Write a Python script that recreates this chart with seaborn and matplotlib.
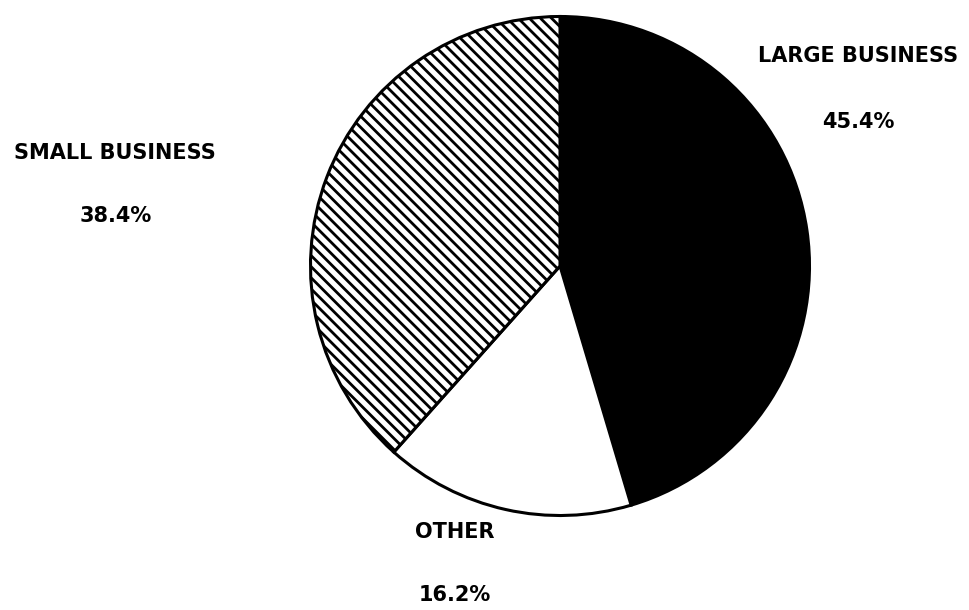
import matplotlib
matplotlib.use("Agg")
import matplotlib.pyplot as plt
import seaborn as sns

# Données du graphique
categories = ["LARGE BUSINESS", "OTHER", "SMALL BUSINESS"]
shares = [45.4, 16.2, 38.4]
share_labels = ["45.4%", "16.2%", "38.4%"]

sns.set_theme(style="white")
plt.rcParams['font.family'] = ['DejaVu Sans']
plt.rcParams['hatch.linewidth'] = 2.0

W, H = 970, 610
fig = plt.figure(figsize=(W / 100, H / 100), dpi=100)

# Le camembert : centre (560, 266) px, rayon ~252 px
cx, cy, r = 560, 266, 252
ax = fig.add_axes([(cx - r) / W, 1 - (cy + r) / H, 2 * r / W, 2 * r / H])

wedges, _ = ax.pie(shares, startangle=90, counterclock=False,
                   colors=["black", "white", "white"],
                   wedgeprops=dict(edgecolor="black", linewidth=2.2))
wedges[2].set_hatch("\\\\\\")
ax.set_xlim(-1.01, 1.01)
ax.set_ylim(-1.01, 1.01)
ax.set_aspect("equal")
ax.axis("off")

# Étiquettes (positions en pixels)
label_pos = {
    "LARGE BUSINESS": (858, 56, 858, 122),
    "OTHER": (455, 532, 455, 595),
    "SMALL BUSINESS": (115, 153, 116, 216),
}
for cat, pct in zip(categories, share_labels):
    x1, y1, x2, y2 = label_pos[cat]
    fig.text(x1 / W, 1 - y1 / H, cat, ha="center", va="center",
             fontsize=15, fontweight="bold", color="black")
    fig.text(x2 / W, 1 - y2 / H, pct, ha="center", va="center",
             fontsize=15, fontweight="bold", color="black")

fig.savefig("out.png", dpi=100, facecolor="white")
